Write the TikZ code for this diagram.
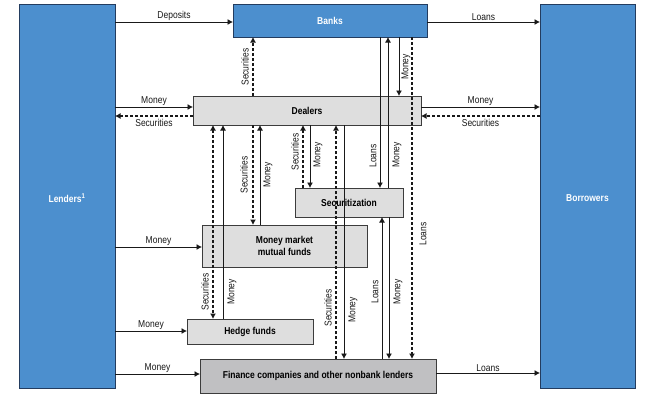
\documentclass[tikz,border=0pt]{standalone}
\usepackage{fontspec}
\newfontfamily\lblfont{Liberation Sans}[FakeStretch=0.85]
\usetikzlibrary{arrows.meta}
\definecolor{boxblue}{RGB}{76,143,206}
\definecolor{blueedge}{RGB}{35,60,95}
\definecolor{boxgray}{RGB}{222,222,222}
\definecolor{boxgraydk}{RGB}{192,192,194}
\definecolor{grayedge}{RGB}{60,60,60}
\definecolor{linecol}{RGB}{25,25,25}
\begin{document}
\begin{tikzpicture}[x=1pt,y=-1pt,
  every node/.style={inner sep=0pt, outer sep=0pt},
  bluebox/.style={draw=blueedge, fill=boxblue, line width=1pt, text=white,
    font=\lblfont\bfseries\fontsize{10}{12}\selectfont},
  graybox/.style={draw=grayedge, fill=boxgray, line width=1pt, align=center,
    font=\lblfont\bfseries\fontsize{10}{12}\selectfont},
  arr/.style={draw=linecol, line width=0.95pt, -{Latex[length=5.5pt,width=6pt]}},
  arrd/.style={arr, line width=1.15pt, dash pattern=on 3pt off 2pt},
  lbl/.style={font=\lblfont\fontsize{10}{12}\selectfont, text=linecol, inner sep=1.5pt},
  vlbl/.style={lbl, rotate=90}]
\useasboundingbox[fill=white] (0,0) rectangle (654,400);
% boxes
\node[bluebox, minimum width=96pt, minimum height=384pt] (lenders) at (67,196) {};
\node[text=white, font=\lblfont\bfseries\fontsize{10}{12}\selectfont] (lendtxt) at (67,198) {Lenders\textsuperscript{1}};
\node[bluebox, minimum width=95pt, minimum height=384pt] (borrowers) at (587.5,196) {};
\node[text=white, font=\lblfont\bfseries\fontsize{10}{12}\selectfont] (borrtxt) at (587.5,198) {Borrowers};
\node[bluebox, minimum width=194pt, minimum height=33pt] (banks) at (330,20.5) {Banks};
\node[graybox, minimum width=228pt, minimum height=29pt] (dealers) at (307,110.5) {Dealers};
\node[graybox, minimum width=108pt, minimum height=29pt] (secur) at (349,202.5) {Securitization};
\node[graybox, minimum width=165pt, minimum height=42pt] (mmmf) at (284.5,246) {Money market\\mutual funds};
\node[graybox, minimum width=126pt, minimum height=25pt] (hedge) at (250,331.5) {Hedge funds};
\node[graybox, fill=boxgraydk, minimum width=236pt, minimum height=34pt] (finance) at (318,376) {Finance companies and other nonbank lenders};
% horizontal flows
\draw[arr] (lenders.east |- 0,22) -- (banks.west |- 0,22) node[lbl, midway, above] {Deposits};
\draw[arr] (banks.east |- 0,22) -- (borrowers.west |- 0,22) node[lbl, midway, above] {Loans};
\draw[arr] (lenders.east |- 0,107) -- (dealers.west |- 0,107) node[lbl, midway, above] {Money};
\draw[arrd] (dealers.west |- 0,116) -- (lenders.east |- 0,116) node[lbl, midway, below=1.5pt] {Securities};
\draw[arr] (dealers.east |- 0,107) -- (borrowers.west |- 0,107) node[lbl, midway, above] {Money};
\draw[arrd] (borrowers.west |- 0,116) -- (dealers.east |- 0,116) node[lbl, midway, below=1.5pt] {Securities};
\draw[arr] (lenders.east |- 0,247) -- (mmmf.west |- 0,247) node[lbl, midway, above] {Money};
\draw[arr] (lenders.east |- 0,331) -- (hedge.west |- 0,331) node[lbl, midway, above] {Money};
\draw[arr] (lenders.east |- 0,374) -- (finance.west |- 0,374) node[lbl, midway, above] {Money};
\draw[arr] (finance.east |- 0,373) -- (borrowers.west |- 0,373) node[lbl, midway, above] {Loans};
% banks <-> dealers / securitization / finance
\draw[arrd] (253,0 |- dealers.north) -- (253,0 |- banks.south);
\node[vlbl] (l1) at (245,67) {Securities};
\draw[arr] (380,0 |- banks.south) -- (380,0 |- secur.north);
\node[vlbl] (l2) at (373,156) {Loans};
\draw[arr] (388,0 |- secur.north) -- (388,0 |- banks.south);
\node[vlbl] (l3) at (397,155) {Money};
\draw[arr] (399,0 |- banks.south) -- (399,0 |- dealers.north);
\node[vlbl] (l4) at (406,67) {Money};
\draw[arrd] (412,0 |- banks.south) -- (412,0 |- finance.north);
\node[vlbl] (l5) at (423,234) {Loans};
% dealers <-> hedge funds
\draw[arrd, {Latex[length=5.5pt,width=6pt]}-{Latex[length=5.5pt,width=6pt]}] (213,0 |- dealers.south) -- (213,0 |- hedge.north);
\node[vlbl] (l6) at (205,292) {Securities};
\draw[arr] (223,0 |- hedge.north) -- (223,0 |- dealers.south);
\node[vlbl] (l7) at (232,292) {Money};
% dealers <-> mmmf
\draw[arrd] (253,0 |- dealers.south) -- (253,0 |- mmmf.north);
\node[vlbl] (l8) at (244,175) {Securities};
\draw[arr] (260,0 |- mmmf.north) -- (260,0 |- dealers.south);
\node[vlbl] (l9) at (268,175) {Money};
% dealers <-> securitization
\draw[arrd] (303,0 |- secur.north) -- (303,0 |- dealers.south);
\node[vlbl] (l10) at (295,152) {Securities};
\draw[arr] (310,0 |- dealers.south) -- (310,0 |- secur.north);
\node[vlbl] (l11) at (318,155) {Money};
% dealers <-> finance
\draw[arrd] (336,0 |- finance.north) -- (336,0 |- dealers.south);
\node[vlbl] (l12) at (328,308) {Securities};
\draw[arr] (344,0 |- dealers.south) -- (344,0 |- finance.north);
\node[vlbl] (l13) at (353,310) {Money};
% securitization <-> finance
\draw[arr] (382,0 |- finance.north) -- (382,0 |- secur.south);
\node[vlbl] (l14) at (375,292) {Loans};
\draw[arr] (389,0 |- secur.south) -- (389,0 |- finance.north);
\node[vlbl] (l15) at (398,292) {Money};
\end{tikzpicture}
\end{document}
